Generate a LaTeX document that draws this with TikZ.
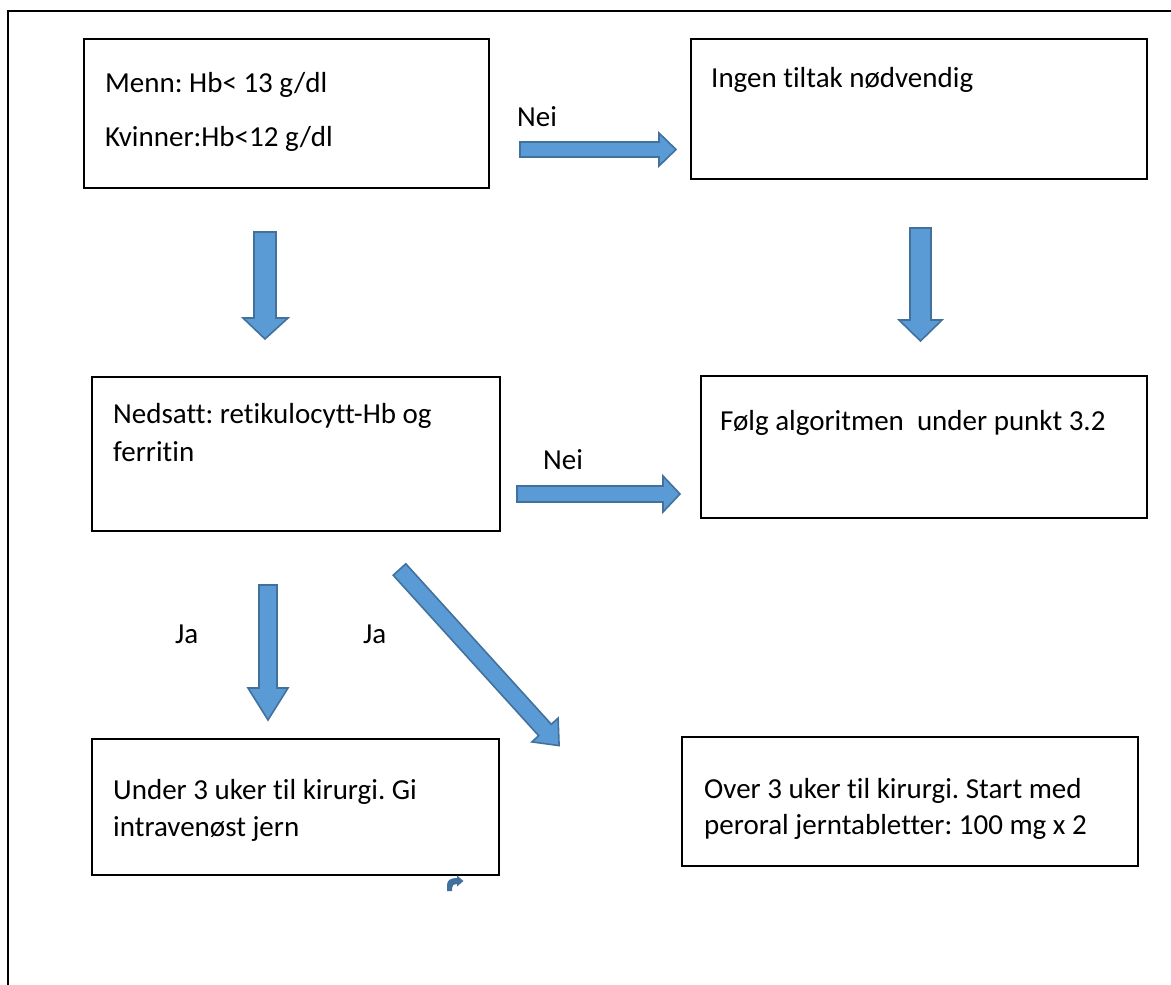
\documentclass[tikz,border=0pt]{standalone}
\usepackage{fontspec}
\setmainfont{Carlito}[Ligatures=CommonOff]
\frenchspacing
\definecolor{arrowfill}{HTML}{5B9BD5}
\definecolor{arrowline}{HTML}{41719C}
\tikzset{
  box/.style={draw=black, line width=2pt, inner sep=0pt, anchor=north west, fill=white},
  txt/.style={anchor=base west, inner sep=0pt, font=\fontsize{29}{35}\selectfont},
  barrow/.style={fill=arrowfill, draw=arrowline, line width=1.6pt, line join=miter},
}
\begin{document}
\begin{tikzpicture}[x=1pt,y=-1pt]
\useasboundingbox (0,0) rectangle (1171,985);
% outer frame (top and left only)
\draw[line width=2.5pt] (8,985) -- (8,11) -- (1171,11);

% boxes
\node[box, minimum width=405pt, minimum height=149pt] (b1) at (83,38) {};
\node[box, minimum width=456pt, minimum height=140pt] (b2) at (690,38) {};
\node[box, minimum width=408pt, minimum height=154pt] (b3) at (91,376) {};
\node[box, minimum width=446pt, minimum height=142pt] (b4) at (700,375) {};
\node[box, minimum width=407pt, minimum height=136pt] (b5) at (91,738) {};
\node[box, minimum width=456pt, minimum height=129pt] (b6) at (681,736) {};

% texts
\node[txt] (t1a) at (105,92) {Menn: Hb< 13 g/dl};
\node[txt] (t1b) at (105,146) {Kvinner:Hb<12 g/dl};
\node[txt] (t2) at (711,87) {Ingen tiltak nødvendig};
\node[txt] (t3a) at (113,423) {Nedsatt: retikulocytt-Hb og};
\node[txt] (t3b) at (113,461) {ferritin};
\node[txt] (t4) at (720,430) {Følg algoritmen~ under punkt 3.2};
\node[txt] (t5a) at (113,799) {Under 3 uker til kirurgi. Gi};
\node[txt] (t5b) at (113,836) {intravenøst jern};
\node[txt] (t6a) at (704,798) {Over 3 uker til kirurgi. Start med};
\node[txt] (t6b) at (704,834) {peroral jerntabletter: 100 mg x 2};

% labels
\node[txt] (n1) at (517,126) {Nei};
\node[txt] (n2) at (543,469) {Nei};
\node[txt] (j1) at (175,643) {Ja};
\node[txt] (j2) at (363,643) {Ja};

% block arrows
\draw[barrow] (520,142) -- (659,142) -- (659,133) -- (676,149.5) -- (659,166) -- (659,157) -- (520,157) -- cycle;
\draw[barrow] (517,486) -- (663,486) -- (663,476) -- (680,494) -- (663,512) -- (663,502) -- (517,502) -- cycle;
\draw[barrow] (254,232) -- (276,232) -- (276,318) -- (288,318) -- (265,339) -- (243,318) -- (254,318) -- cycle;
\draw[barrow] (910,228) -- (931,228) -- (931,320) -- (942,320) -- (920.5,341) -- (899,320) -- (910,320) -- cycle;
\draw[barrow] (259,585) -- (277,585) -- (277,688) -- (288,688) -- (268,720) -- (248,688) -- (259,688) -- cycle;
\draw[barrow] (405.8,563.8) -- (551.3,724.3) -- (558.1,718.1) -- (559.1,745.6) -- (531.9,741.9) -- (538.7,735.7) -- (393.2,575.2) -- cycle;

% small bent arrow icon
\fill[arrowline] (447,891) -- (447,885) .. controls (447,880) and (451,878) .. (457,878) -- (457,875.5) -- (463.5,881) -- (457,886.5) -- (457,884) .. controls (454,884) and (452,885) .. (452,888) -- (452,891) -- cycle;
\end{tikzpicture}
\end{document}
